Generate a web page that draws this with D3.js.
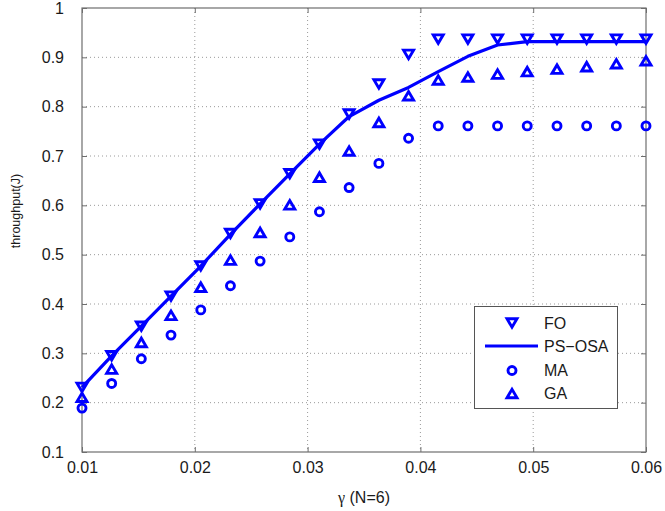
<!DOCTYPE html>
<html>
<head>
<meta charset="utf-8">
<script src="https://cdn.jsdelivr.net/npm/d3@7"></script>
<style>
  body { margin: 0; background: #fff; }
  svg text { font-family: "Liberation Sans", Arial, sans-serif; fill: #1a1a1a; }
</style>
</head>
<body>
<svg id="chart" width="665" height="511"></svg>
<script>
// values
var gammaVals = [0.01, 0.01263, 0.01526, 0.01789, 0.02053, 0.02316, 0.02579, 0.02842, 0.03105, 0.03368,
                 0.03632, 0.03895, 0.04158, 0.04421, 0.04684, 0.04947, 0.05211, 0.05474, 0.05737, 0.06];
var foVals = [0.231, 0.295, 0.355, 0.416, 0.477, 0.543, 0.603, 0.664, 0.724, 0.785,
              0.846, 0.906, 0.937, 0.937, 0.937, 0.937, 0.937, 0.937, 0.937, 0.937];
var psosaVals = [0.231, 0.295, 0.355, 0.416, 0.477, 0.541, 0.603, 0.664, 0.724, 0.780,
                 0.813, 0.839, 0.871, 0.902, 0.925, 0.932, 0.932, 0.932, 0.932, 0.932];
var maVals = [0.189, 0.239, 0.289, 0.337, 0.388, 0.437, 0.487, 0.536, 0.587, 0.636,
              0.685, 0.736, 0.761, 0.761, 0.761, 0.761, 0.761, 0.761, 0.761, 0.761];
var gaVals = [0.211, 0.268, 0.322, 0.377, 0.434, 0.489, 0.545, 0.601, 0.657, 0.710,
              0.768, 0.822, 0.854, 0.860, 0.866, 0.871, 0.876, 0.881, 0.887, 0.893];
var xTicks = [0.01, 0.02, 0.03, 0.04, 0.05, 0.06];
var yTicks = [0.1, 0.2, 0.3, 0.4, 0.5, 0.6, 0.7, 0.8, 0.9, 1];
var legendNames = ["FO", "PS\u2212OSA", "MA", "GA"];

var blue = "#0000ff";
var svg = d3.select("#chart");
// note: "top" is taken by window.top, so the plot box gets its own names
var plotL = 82, plotR = 646, plotT = 8, plotB = 452;
var mk = 5, mkW = 2.9;

var x = d3.scaleLinear().domain([0.01, 0.06]).range([plotL, plotR]);
var y = d3.scaleLinear().domain([0.1, 1]).range([plotB, plotT]);

// grid
svg.append("g").selectAll("line").data(xTicks.slice(1, -1)).enter().append("line")
  .attr("x1", d => x(d)).attr("x2", d => x(d)).attr("y1", plotT).attr("y2", plotB)
  .attr("stroke", "#9a9a9a").attr("stroke-width", 1).attr("stroke-dasharray", "1,3");
svg.append("g").selectAll("line").data(yTicks.slice(1, -1)).enter().append("line")
  .attr("y1", d => y(d)).attr("y2", d => y(d)).attr("x1", plotL).attr("x2", plotR)
  .attr("stroke", "#9a9a9a").attr("stroke-width", 1).attr("stroke-dasharray", "1,3");

// axes, ticks pointing inward on all four sides
var axisColor = "#6e6e6e";
function styleAxis(g) {
  g.select(".domain").remove();
  g.selectAll(".tick line").attr("stroke", axisColor);
  g.selectAll(".tick text").style("font-size", "16px");
}
svg.append("g").attr("transform", `translate(0,${plotB})`)
  .call(d3.axisBottom(x).tickValues(xTicks).tickFormat(d3.format(".2f")).tickSizeInner(-5).tickPadding(10))
  .call(styleAxis);
svg.append("g").attr("transform", `translate(${plotL},0)`)
  .call(d3.axisLeft(y).tickValues(yTicks).tickFormat(d => d === 1 ? "1" : d3.format(".1f")(d)).tickSizeInner(-5).tickPadding(18))
  .call(styleAxis);
svg.append("g").attr("transform", `translate(0,${plotT})`)
  .call(d3.axisTop(x).tickValues(xTicks).tickSizeInner(-5).tickFormat(""))
  .call(styleAxis);
svg.append("g").attr("transform", `translate(${plotR},0)`)
  .call(d3.axisRight(y).tickValues(yTicks).tickSizeInner(-5).tickFormat(""))
  .call(styleAxis);
svg.append("rect").attr("x", plotL).attr("y", plotT).attr("width", plotR - plotL).attr("height", plotB - plotT)
  .attr("fill", "none").attr("stroke", axisColor).attr("stroke-width", 1.2);

// marker shapes
function triDown(s) { return `M${-s},${-s * 0.85}L${s},${-s * 0.85}L0,${s * 0.85}Z`; }
function triUp(s) { return `M${-s},${s * 0.85}L${s},${s * 0.85}L0,${-s * 0.85}Z`; }

var pts = gammaVals.map((g, i) => ({ g: g, fo: foVals[i], ps: psosaVals[i], ma: maVals[i], ga: gaVals[i] }));

// PS-OSA line
svg.append("path").datum(pts)
  .attr("d", d3.line().x(d => x(d.g)).y(d => y(d.ps)))
  .attr("fill", "none").attr("stroke", blue).attr("stroke-width", 3.2).attr("stroke-linejoin", "round");

svg.append("g").selectAll("path").data(pts).enter().append("path")
  .attr("transform", d => `translate(${x(d.g)},${y(d.fo)})`)
  .attr("d", triDown(mk)).attr("fill", "none").attr("stroke", blue).attr("stroke-width", mkW);
svg.append("g").selectAll("circle").data(pts).enter().append("circle")
  .attr("cx", d => x(d.g)).attr("cy", d => y(d.ma)).attr("r", 4)
  .attr("fill", "none").attr("stroke", blue).attr("stroke-width", mkW);
svg.append("g").selectAll("path").data(pts).enter().append("path")
  .attr("transform", d => `translate(${x(d.g)},${y(d.ga)})`)
  .attr("d", triUp(mk)).attr("fill", "none").attr("stroke", blue).attr("stroke-width", mkW);

// axis labels
svg.append("text").attr("transform", "translate(20,211) rotate(-90)")
  .attr("text-anchor", "middle").style("font-size", "12.5px").text("throughput(J)");
var xl = svg.append("text").attr("x", 364).attr("y", 503).attr("text-anchor", "middle").style("font-size", "16px");
xl.append("tspan").style("font-family", "'Liberation Serif', serif").text("\u03b3");
xl.append("tspan").text(" (N=6)");

// legend
var lg = svg.append("g");
lg.append("rect").attr("x", 474.5).attr("y", 306.5).attr("width", 143).attr("height", 102)
  .attr("fill", "#fff").attr("stroke", "#555").attr("stroke-width", 1);
var rowsY = [323, 346, 370.5, 393.5];
lg.selectAll("text").data(legendNames).enter().append("text")
  .attr("x", 544).attr("y", (d, i) => rowsY[i]).attr("dy", "0.36em")
  .style("font-size", "16px").text(d => d);
lg.append("path").attr("transform", `translate(512,${rowsY[0]})`).attr("d", triDown(mk))
  .attr("fill", "none").attr("stroke", blue).attr("stroke-width", mkW);
lg.append("line").attr("x1", 485).attr("x2", 538).attr("y1", rowsY[1]).attr("y2", rowsY[1])
  .attr("stroke", blue).attr("stroke-width", 3.2);
lg.append("circle").attr("cx", 512).attr("cy", rowsY[2]).attr("r", 4)
  .attr("fill", "none").attr("stroke", blue).attr("stroke-width", mkW);
lg.append("path").attr("transform", `translate(512,${rowsY[3]})`).attr("d", triUp(mk))
  .attr("fill", "none").attr("stroke", blue).attr("stroke-width", mkW);
</script>
</body>
</html>
